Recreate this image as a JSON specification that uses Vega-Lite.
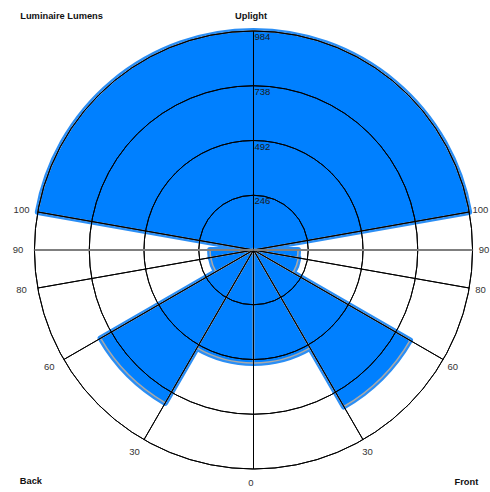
{
  "$schema": "https://vega.github.io/schema/vega-lite/v6.json",
  "width": 487,
  "height": 490,
  "padding": {"left": 10, "top": 5, "right": 0, "bottom": 0},
  "autosize": {"type": "none"},
  "background": "white",
  "config": {
    "view": {"stroke": "#7f7f7f", "strokeWidth": 1.5},
    "text": {"font": "Liberation Sans"}
  },
  "datasets": {
    "zones": [
      {"zone": "UH", "d1": 100, "d2": 260, "lumens": 984},
      {"zone": "FL", "d1": 0, "d2": 30, "lumens": 508},
      {"zone": "FM", "d1": 30, "d2": 60, "lumens": 812},
      {"zone": "FH", "d1": 60, "d2": 80, "lumens": 205},
      {"zone": "FVH", "d1": 80, "d2": 90, "lumens": 200},
      {"zone": "BVH", "d1": 270, "d2": 280, "lumens": 195},
      {"zone": "BH", "d1": 280, "d2": 300, "lumens": 195},
      {"zone": "BM", "d1": 300, "d2": 330, "lumens": 793},
      {"zone": "BL", "d1": 330, "d2": 360, "lumens": 508}
    ],
    "rings": [{"r": 246}, {"r": 492}, {"r": 738}, {"r": 984}],
    "spokes": [
      {"deg": 0}, {"deg": 30}, {"deg": 60}, {"deg": 80}, {"deg": 100},
      {"deg": 180}, {"deg": 260}, {"deg": 280}, {"deg": 300}, {"deg": 330}
    ],
    "horizon": [{"deg": 90}, {"deg": 270}],
    "angleLabels": [
      {"label": "0", "deg": 0},
      {"label": "30", "deg": 30},
      {"label": "60", "deg": 60},
      {"label": "80", "deg": 80},
      {"label": "90", "deg": 90},
      {"label": "100", "deg": 100},
      {"label": "100", "deg": 260},
      {"label": "90", "deg": 270},
      {"label": "80", "deg": 280},
      {"label": "60", "deg": 300},
      {"label": "30", "deg": 330}
    ]
  },
  "layer": [
    {
      "data": {"name": "zones"},
      "mark": {"type": "arc", "fill": "#0080ff", "stroke": "#2a8ef5", "strokeWidth": 6, "strokeJoin": "round"},
      "encoding": {
        "theta": {"field": "d1", "type": "quantitative", "stack": null, "scale": {"domain": [0, 360], "range": [3.141592653589793, -3.141592653589793]}},
        "theta2": {"field": "d2"},
        "radius": {"field": "lumens", "type": "quantitative", "scale": {"type": "linear", "domain": [0, 984], "range": [0, 219], "zero": true, "nice": false}}
      }
    },
    {
      "data": {"name": "zones"},
      "mark": {"type": "arc", "fill": "#0080ff", "strokeWidth": 0},
      "encoding": {
        "theta": {"field": "d1", "type": "quantitative", "stack": null},
        "theta2": {"field": "d2"},
        "radius": {"field": "lumens", "type": "quantitative"}
      }
    },
    {
      "data": {"name": "zones"},
      "mark": {"type": "arc", "filled": false, "stroke": "#a9a9a9", "strokeWidth": 1.5},
      "encoding": {
        "theta": {"field": "d1", "type": "quantitative", "stack": null},
        "theta2": {"field": "d2"},
        "radius": {"field": "lumens", "type": "quantitative"}
      }
    },
    {
      "data": {"name": "rings"},
      "mark": {"type": "arc", "filled": false, "stroke": "#000000", "strokeWidth": 1},
      "encoding": {
        "theta": {"datum": 0, "type": "quantitative", "stack": null},
        "theta2": {"datum": 180},
        "radius": {"field": "r", "type": "quantitative"},
        "radius2": {"field": "r"}
      }
    },
    {
      "data": {"name": "rings"},
      "mark": {"type": "arc", "filled": false, "stroke": "#000000", "strokeWidth": 1},
      "encoding": {
        "theta": {"datum": 180, "type": "quantitative", "stack": null},
        "theta2": {"datum": 360},
        "radius": {"field": "r", "type": "quantitative"},
        "radius2": {"field": "r"}
      }
    },
    {
      "data": {"name": "spokes"},
      "mark": {"type": "arc", "filled": false, "stroke": "#000000", "strokeWidth": 1},
      "encoding": {
        "theta": {"field": "deg", "type": "quantitative", "stack": null},
        "theta2": {"field": "deg"},
        "radius": {"datum": 984, "type": "quantitative"}
      }
    },
    {
      "data": {"name": "horizon"},
      "mark": {"type": "arc", "filled": false, "stroke": "#7f7f7f", "strokeWidth": 2},
      "encoding": {
        "theta": {"field": "deg", "type": "quantitative", "stack": null},
        "theta2": {"field": "deg"},
        "radius": {"datum": 984, "type": "quantitative"}
      }
    },
    {
      "data": {"name": "rings"},
      "mark": {"type": "text", "align": "left", "baseline": "top", "dx": 1, "dy": 1, "fontSize": 9.5, "color": "#1a1a1a"},
      "encoding": {
        "theta": {"datum": 180, "type": "quantitative", "stack": null},
        "radius": {"field": "r", "type": "quantitative"},
        "text": {"field": "r", "type": "quantitative"}
      }
    },
    {
      "data": {"name": "angleLabels"},
      "mark": {"type": "text", "radius": 233, "dx": -2.5, "fontSize": 9.5, "color": "#333333"},
      "encoding": {
        "theta": {"field": "deg", "type": "quantitative", "stack": null},
        "text": {"field": "label", "type": "nominal"}
      }
    },
    {
      "data": {"values": [{"label": "Uplight", "deg": 180}]},
      "mark": {"type": "text", "radius": 234.5, "dx": -2.5, "fontSize": 9.3, "fontWeight": "bold", "color": "#111111"},
      "encoding": {
        "theta": {"field": "deg", "type": "quantitative", "stack": null},
        "text": {"field": "label", "type": "nominal"}
      }
    },
    {
      "data": {"values": [{"label": "Luminaire Lumens", "deg": 219.3}]},
      "mark": {"type": "text", "radius": 303, "fontSize": 9.3, "fontWeight": "bold", "color": "#111111"},
      "encoding": {
        "theta": {"field": "deg", "type": "quantitative", "stack": null},
        "text": {"field": "label", "type": "nominal"}
      }
    },
    {
      "data": {"values": [{"label": "Back", "deg": 316.1}]},
      "mark": {"type": "text", "radius": 321, "fontSize": 9.3, "fontWeight": "bold", "color": "#111111"},
      "encoding": {
        "theta": {"field": "deg", "type": "quantitative", "stack": null},
        "text": {"field": "label", "type": "nominal"}
      }
    },
    {
      "data": {"values": [{"label": "Front", "deg": 42.6}]},
      "mark": {"type": "text", "radius": 314.6, "fontSize": 9.3, "fontWeight": "bold", "color": "#111111"},
      "encoding": {
        "theta": {"field": "deg", "type": "quantitative", "stack": null},
        "text": {"field": "label", "type": "nominal"}
      }
    }
  ]
}
